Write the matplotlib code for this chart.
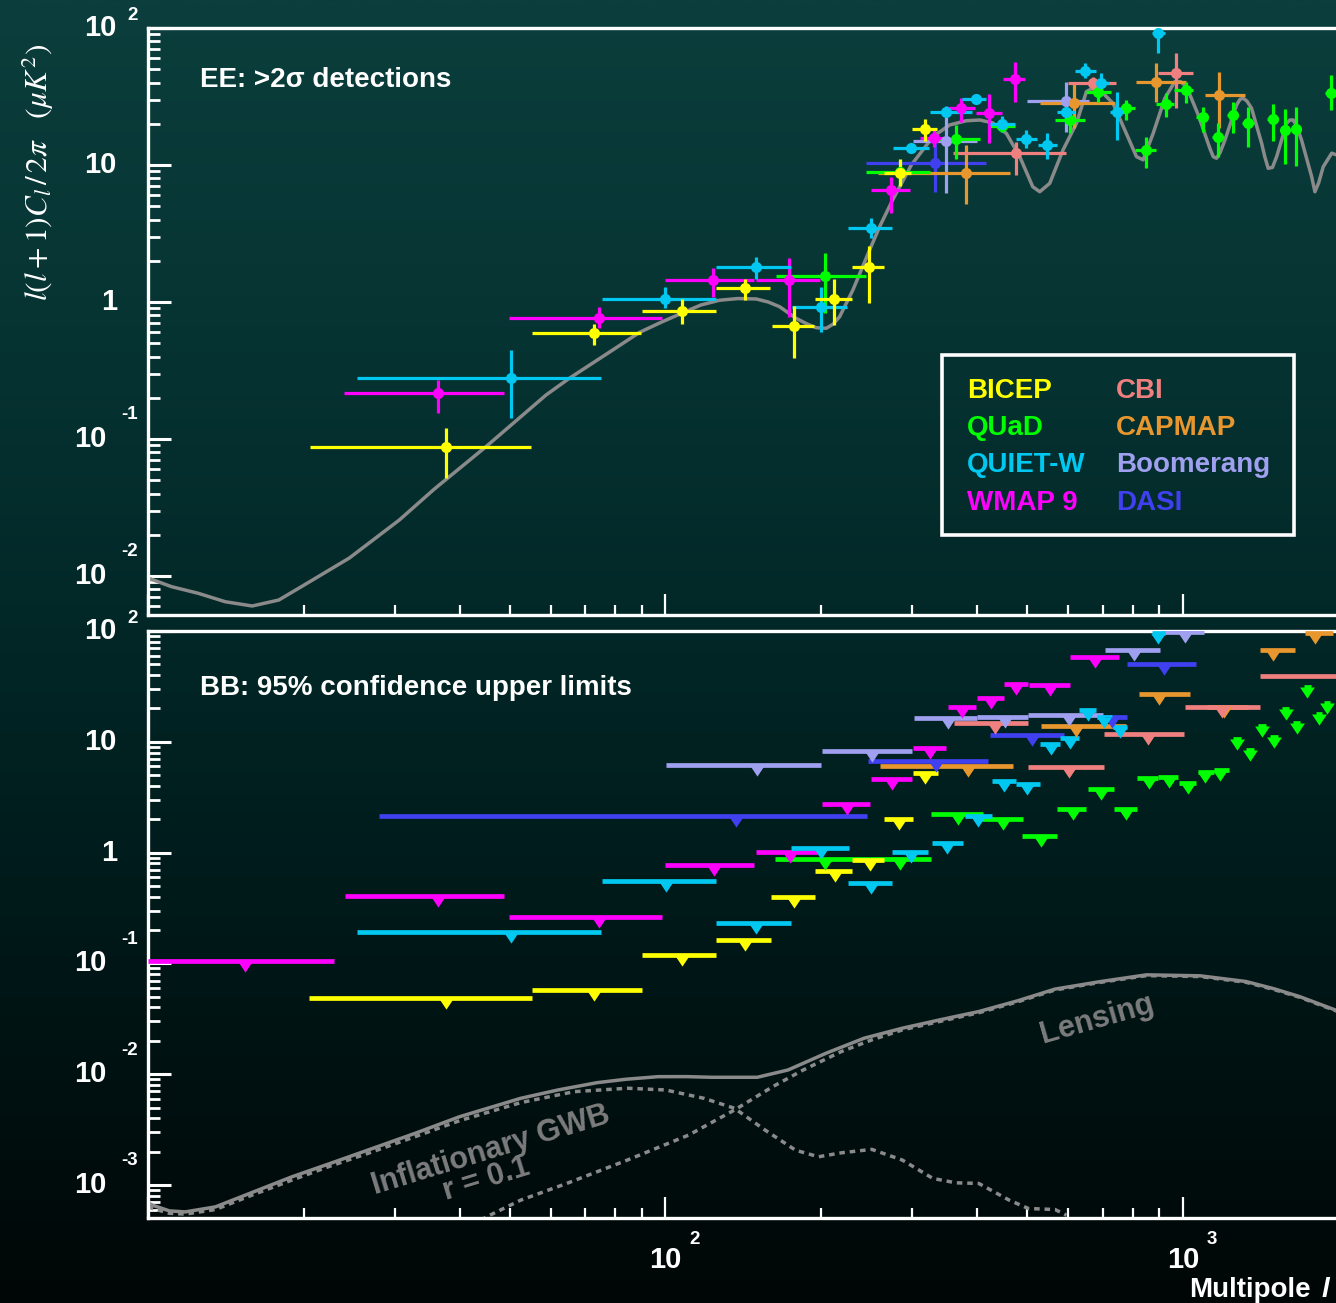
import numpy as np
import matplotlib
matplotlib.use("Agg")
import matplotlib.pyplot as plt
from matplotlib import font_manager
from matplotlib.colors import LinearSegmentedColormap
from matplotlib.patches import Rectangle
from matplotlib.ticker import LogLocator, NullFormatter

plt.rcParams["font.family"] = ["Liberation Sans", "DejaVu Sans"]
plt.rcParams["mathtext.fontset"] = "stix"

W, H, DPI = 1336, 1303, 100
PT = 72.0 / DPI  # points per pixel

# ---------------------------------------------------------------- colours
C_BICEP = "#ffff00"
C_QUAD = "#00ff00"
C_QUIET = "#00c8f0"
C_WMAP = "#ff00ff"
C_CBI = "#f08080"
C_CAPMAP = "#e8962e"
C_BOOM = "#a0a0f0"
C_DASI = "#4040f0"
C_THEORY = "#8a8a8a"
C_NOTE = "#7c7c7c"

# ---------------------------------------------------------------- EE band powers
# (l, l_min, l_max, D_l, D_l - 1sigma, D_l + 1sigma)   [uK^2]
BICEP_EE = [(37.7, 20.6, 55.1, 0.087, 0.052, 0.12),
            (72.9, 55.3, 89.9, 0.59, 0.486, 0.69),
            (107.7, 90.1, 125.4, 0.86, 0.69, 1.05),
            (142.8, 125.3, 159.6, 1.26, 1.03, 1.47),
            (177.6, 160.6, 194.0, 0.67, 0.39, 0.94),
            (212.0, 194.6, 229.0, 1.06, 0.68, 1.47),
            (247.0, 229.0, 264.6, 1.81, 0.99, 2.58),
            (283.6, 264.7, 298.7, 8.7, 7.0, 11.0),
            (317.0, 300.0, 335.0, 18.2, 15.0, 21.6)]

QUAD_EE = [(203.0, 163.3, 243.7, 1.55, 0.83, 2.29),
           (283.6, 244.0, 324.0, 8.9, 7.2, 10.9),
           (365.0, 324.0, 405.0, 15.4, 11.0, 19.6),
           (448.0, 423.0, 473.0, 19.2, 17.5, 21.5),
           (604.6, 565.0, 647.0, 21.3, 17.0, 23.9),
           (684.8, 651.0, 727.0, 34.3, 29.0, 39.7),
           (775.6, 755.0, 808.0, 25.9, 21.3, 29.8),
           (848.0, 808.0, 887.0, 12.9, 9.5, 16.1),
           (926.8, 887.0, 963.0, 27.9, 22.4, 33.7),
           (1013.0, 963.0, 1047.0, 35.3, 28.5, 40.6),
           (1092.0, 1060.0, 1120.0, 22.3, 17.5, 26.3),
           (1170.0, 1140.0, 1200.0, 15.9, 11.5, 20.2),
           (1248.0, 1215.0, 1280.0, 23.2, 17.0, 29.0),
           (1334.0, 1300.0, 1370.0, 20.4, 13.6, 26.3),
           (1491.0, 1455.0, 1525.0, 21.6, 15.0, 27.8),
           (1575.0, 1545.0, 1605.0, 18.0, 10.1, 25.5),
           (1654.0, 1620.0, 1690.0, 18.2, 9.9, 26.3),
           (1931.0, 1880.0, 1990.0, 33.4, 25.0, 45.4)]

QUIET_EE = [(50.3, 25.4, 75.1, 0.28, 0.142, 0.447),
            (100.0, 75.3, 125.0, 1.06, 0.90, 1.28),
            (149.8, 125.3, 175.0, 1.81, 1.47, 2.14),
            (200.0, 175.8, 224.3, 0.92, 0.60, 1.28),
            (250.0, 225.0, 274.0, 3.49, 2.92, 4.12),
            (298.7, 274.9, 323.0, 13.4, 12.7, 14.0),
            (349.0, 324.9, 391.9, 24.5, 22.4, 26.8),
            (397.8, 374.0, 417.0, 30.3, 28.5, 32.0),
            (448.0, 423.0, 473.0, 19.8, 17.3, 22.8),
            (498.6, 475.0, 523.0, 15.4, 13.3, 18.0),
            (547.0, 525.0, 572.0, 14.0, 11.0, 17.0),
            (595.6, 572.0, 620.0, 24.5, 20.4, 27.4),
            (648.0, 620.0, 678.0, 48.8, 43.0, 55.2),
            (696.0, 672.0, 720.0, 39.5, 32.4, 46.6),
            (747.4, 722.0, 773.0, 24.5, 15.2, 34.3),
            (896.0, 870.0, 922.0, 91.5, 65.4, 130.0)]

WMAP_EE = [(36.4, 23.9, 48.8, 0.218, 0.154, 0.27),
           (74.3, 49.9, 98.5, 0.768, 0.643, 0.915),
           (123.8, 99.6, 148.6, 1.45, 1.09, 1.78),
           (173.7, 149.8, 198.6, 1.45, 0.78, 2.08),
           (273.3, 250.0, 296.7, 6.57, 4.44, 8.2),
           (331.0, 310.0, 352.0, 15.7, 13.5, 18.0),
           (373.3, 349.0, 396.0, 25.9, 20.7, 30.7),
           (421.5, 398.0, 448.0, 24.1, 14.5, 33.0),
           (473.0, 449.0, 495.0, 42.2, 29.0, 56.8)]

CBI_EE = [(477.0, 359.0, 595.7, 12.3, 8.45, 14.8),
          (670.0, 600.0, 744.0, 39.7, 35.3, 44.1),
          (969.4, 896.0, 1047.0, 46.7, 25.9, 66.0)]

CAPMAP_EE = [(380.5, 257.5, 462.8, 8.78, 5.19, 14.0),
             (615.0, 529.0, 738.6, 28.2, 18.5, 39.7),
             (886.8, 812.9, 1016.0, 40.6, 29.0, 55.5),
             (1175.0, 1103.0, 1318.0, 32.4, 18.5, 48.0)]

BOOM_EE = [(348.0, 300.5, 399.6, 15.0, 6.2, 22.5),
           (594.0, 499.0, 660.0, 29.3, 17.5, 40.6)]

DASI_EE = [(331.4, 244.6, 417.0, 10.3, 6.38, 14.4)]

# ---------------------------------------------------------------- BB 95% upper limits
# (l_min, l_max, l_marker, limit)   [uK^2]
BICEP_BB = [(20.5, 55.3, 37.7, 0.049), (55.3, 90.0, 72.8, 0.057),
            (90.0, 125.0, 107.5, 0.119), (125.0, 160.0, 142.6, 0.163),
            (160.0, 195.0, 177.3, 0.398), (195.0, 229.0, 212.8, 0.683),
            (229.0, 265.0, 248.0, 0.864), (265.0, 301.0, 283.0, 2.03),
            (301.0, 336.0, 318.0, 5.18)]

WMAP_BB = [(10.0, 22.9, 15.4, 0.104), (24.0, 48.8, 36.4, 0.406),
           (49.9, 98.7, 74.4, 0.262), (99.8, 148.0, 124.0, 0.774),
           (149.5, 197.0, 174.0, 1.01), (201.0, 249.0, 224.0, 2.72),
           (250.0, 299.0, 274.0, 4.57), (301.0, 349.0, 325.0, 8.85),
           (351.0, 399.0, 375.0, 20.8), (401.0, 451.0, 425.0, 25.0),
           (452.0, 502.0, 477.0, 33.0), (505.0, 604.0, 553.0, 32.4),
           (604.0, 754.0, 675.0, 58.8)]

QUIET_BB = [(25.4, 75.1, 50.3, 0.192), (75.5, 125.2, 100.2, 0.555),
            (125.0, 175.0, 149.8, 0.233), (175.0, 226.0, 200.0, 1.10),
            (225.0, 274.0, 250.0, 0.528), (274.0, 322.0, 298.0, 1.01),
            (327.0, 376.0, 350.0, 1.22), (379.0, 428.0, 402.0, 2.13),
            (428.0, 476.0, 452.0, 4.41), (476.0, 530.0, 500.0, 4.12),
            (530.0, 580.0, 555.0, 9.47), (580.0, 630.0, 605.0, 10.9),
            (630.0, 680.0, 655.0, 19.2), (682.0, 730.0, 705.0, 16.9),
            (732.0, 781.0, 756.0, 13.7), (870.0, 925.0, 897.0, 95.5)]

QUAD_BB = [(163.0, 248.0, 203.0, 0.87), (248.0, 326.0, 284.0, 0.87),
           (326.0, 411.0, 367.0, 2.24), (410.0, 490.0, 450.0, 1.99),
           (489.0, 570.0, 531.0, 1.40), (570.0, 650.0, 612.0, 2.45),
           (655.0, 737.0, 695.0, 3.77), (737.0, 815.0, 778.0, 2.45),
           (815.0, 894.0, 859.0, 4.67), (894.0, 980.0, 940.0, 4.80),
           (985.0, 1060.0, 1022.0, 4.21), (1070.0, 1150.0, 1106.0, 5.32),
           (1150.0, 1230.0, 1181.0, 5.55), (1250.0, 1295.0, 1271.0, 10.5),
           (1325.0, 1370.0, 1348.0, 8.41), (1400.0, 1450.0, 1425.0, 13.9),
           (1475.0, 1525.0, 1500.0, 11.1), (1555.0, 1605.0, 1580.0, 19.6),
           (1635.0, 1685.0, 1660.0, 14.7), (1715.0, 1765.0, 1740.0, 31.5),
           (1805.0, 1855.0, 1830.0, 17.9), (1875.0, 1925.0, 1900.0, 22.2)]

CBI_BB = [(361.0, 502.0, 433.0, 14.9), (502.0, 703.0, 603.0, 5.96),
          (705.0, 1006.0, 856.0, 11.7), (1010.0, 1410.0, 1193.0, 20.6),
          (1410.0, 2600.0, 2050.0, 39.3)]

CAPMAP_BB = [(260.0, 469.0, 384.0, 6.03), (532.0, 776.0, 622.0, 13.9),
             (823.0, 1031.0, 900.0, 27.2), (1112.0, 1337.0, 1200.0, 20.8),
             (1410.0, 1650.0, 1493.0, 67.5), (1720.0, 1950.0, 1799.0, 96.9)]

BOOM_BB = [(100.4, 199.7, 150.0, 6.16), (201.0, 300.0, 250.4, 8.24),
           (302.0, 400.0, 351.0, 16.5), (401.0, 502.0, 453.0, 16.9),
           (502.0, 700.0, 603.0, 17.3), (707.0, 905.0, 805.0, 67.5),
           (910.0, 1100.0, 1011.0, 98.0)]

DASI_BB = [(28.0, 245.5, 136.6, 2.13), (246.0, 421.0, 334.0, 6.69),
           (424.0, 588.0, 510.0, 11.5), (682.0, 781.0, 730.0, 16.7),
           (781.0, 1058.0, 918.0, 50.8)]

# ---------------------------------------------------------------- model spectra (l, D_l)
EE_THEORY = [(10.0, 0.00967), (11.1, 0.00836), (12.5, 0.00748), (14.1, 0.00649),
             (15.9, 0.00604), (17.9, 0.00668), (19.6, 0.00818), (24.5, 0.01353),
             (30.6, 0.02563), (35.7, 0.0429), (45.0, 0.0879), (58.8, 0.2096),
             (65.2, 0.2773), (79.1, 0.4464), (89.1, 0.600), (98.0, 0.71),
             (107.7, 0.83), (117.0, 0.95), (127.2, 1.03), (138.0, 1.06),
             (149.8, 1.052), (158.0, 1.0), (166.2, 0.924), (178.9, 0.760),
             (188.0, 0.69), (195.7, 0.649), (204.6, 0.643), (211.0, 0.69),
             (217.1, 0.781), (230.3, 1.223), (248.1, 2.397), (259.4, 3.545),
             (274.8, 5.55), (298.7, 10.0), (328.9, 16.1), (354.2, 19.6),
             (381.6, 21.05), (405.0, 21.3), (429.0, 20.3), (456.0, 17.0),
             (484.0, 11.5), (512.8, 6.94), (529.0, 6.38), (553.0, 7.35),
             (586.9, 12.9), (623.0, 20.2), (651.0, 34.3), (670.0, 36.5),
             (691.0, 35.3), (733.0, 28.2), (772.4, 18.0), (813.6, 11.5),
             (838.0, 10.9), (876.2, 17.0), (923.0, 30.7), (965.0, 40.6),
             (990.0, 40.6), (1016.6, 37.3), (1071.0, 23.2), (1128.0, 13.2),
             (1145.0, 11.5), (1162.0, 11.2), (1180.0, 12.3), (1206.0, 15.2),
             (1270.0, 27.4), (1290.0, 30.2), (1308.0, 30.7), (1330.0, 29.3),
             (1358.0, 25.9), (1420.0, 14.4), (1440.0, 11.5), (1462.0, 9.46),
             (1490.0, 9.6), (1518.0, 11.5), (1587.0, 20.2), (1610.0, 21.3),
             (1634.0, 21.3), (1660.0, 19.2), (1696.0, 15.2), (1774.0, 8.22),
             (1800.0, 6.38), (1830.0, 7.4), (1868.0, 9.72), (1940.0, 12.2),
             (2000.0, 11.7)]

BB_TOTAL = [(10.0, 6.9e-4), (10.2, 6.57e-4), (11.0, 5.83e-4), (11.8, 5.71e-4),
            (13.5, 6.34e-4), (16.0, 8.66e-4), (18.96, 1.183e-3), (22.5, 1.564e-3),
            (26.6, 2.063e-3), (33.0, 2.95e-3), (40.0, 4.127e-3), (52.5, 6.05e-3),
            (62.0, 7.2e-3), (73.8, 8.38e-3), (84.0, 9.0e-3), (96.8, 9.49e-3),
            (110.0, 9.5e-3), (122.8, 9.37e-3), (150.5, 9.37e-3), (172.6, 1.091e-2),
            (204.4, 1.545e-2), (242.2, 2.112e-2), (287.1, 2.60e-2), (340.0, 3.1e-2),
            (403.2, 3.673e-2), (480.0, 4.6e-2), (566.2, 5.86e-2), (694.6, 6.86e-2),
            (851.0, 7.88e-2), (1080.0, 7.72e-2), (1324.0, 6.86e-2), (1500.0, 5.9e-2),
            (1680.0, 5.02e-2), (2000.0, 3.7e-2)]

BB_GWB = [(10.0, 6.4e-4), (10.2, 6.13e-4), (11.0, 5.55e-4), (11.8, 5.45e-4),
          (13.5, 6.0e-4), (16.0, 8.2e-4), (18.96, 1.105e-3), (22.5, 1.48e-3),
          (26.6, 1.926e-3), (33.0, 2.75e-3), (40.0, 3.80e-3), (52.5, 5.53e-3),
          (66.6, 6.95e-3), (84.5, 7.46e-3), (100.1, 7.20e-3), (118.7, 6.05e-3),
          (136.0, 4.92e-3), (155.8, 3.13e-3), (178.4, 2.06e-3), (197.6, 1.795e-3),
          (218.8, 1.95e-3), (250.6, 2.094e-3), (287.1, 1.675e-3), (328.8, 1.145e-3),
          (364.2, 1.045e-3), (403.2, 1.032e-3), (461.8, 7.29e-4), (502.8, 6.13e-4),
          (566.2, 6.0e-4), (596.0, 5.33e-4)]

BB_LENS = [(44.0, 4.8e-4), (45.1, 5.15e-4), (52.5, 7.29e-4), (64.4, 1.03e-3),
           (84.5, 1.68e-3), (110.9, 2.82e-3), (136.0, 4.75e-3), (161.2, 7.71e-3),
           (184.6, 1.09e-2), (218.8, 1.60e-2), (250.6, 2.04e-2), (287.1, 2.51e-2),
           (340.0, 3.0e-2), (403.2, 3.58e-2), (480.0, 4.5e-2), (566.2, 5.75e-2),
           (694.6, 6.75e-2), (851.0, 7.75e-2), (1080.0, 7.6e-2), (1324.0, 6.75e-2),
           (1500.0, 5.8e-2), (1680.0, 4.95e-2), (2000.0, 3.65e-2)]

LEGEND_LEFT = [("BICEP", C_BICEP), ("QUaD", C_QUAD), ("QUIET-W", C_QUIET), ("WMAP 9", C_WMAP)]
LEGEND_RIGHT = [("CBI", C_CBI), ("CAPMAP", C_CAPMAP), ("Boomerang", C_BOOM), ("DASI", C_DASI)]

# tick labels: (value, base, exponent)
TOP_YLABELS = [(100, "10", "2"), (10, "10", ""), (1, "1", ""), (0.1, "10", "-1"), (0.01, "10", "-2")]
BOT_YLABELS = [(100, "10", "2"), (10, "10", ""), (1, "1", ""), (0.1, "10", "-1"),
               (0.01, "10", "-2"), (0.001, "10", "-3")]
XLABELS = [(100, "10", "2"), (1000, "10", "3")]

# condensed face for the curve annotations, when available
_installed = {f.name for f in font_manager.fontManager.ttflist}
if "Liberation Sans Narrow" in _installed:
    NOTE_FONT = dict(family=["Liberation Sans Narrow", "Liberation Sans"], fontsize=26)
else:
    NOTE_FONT = dict(family=["Liberation Sans", "DejaVu Sans"], fontsize=22)

# ---------------------------------------------------------------- figure
fig = plt.figure(figsize=(W / DPI, H / DPI), dpi=DPI)


def fx(x):
    return x / W


def fy(y):
    return 1.0 - y / H


# vertical background gradient
bg = fig.add_axes([0, 0, 1, 1], zorder=-10)
stops = [(0.0, (11, 62, 60)), (0.25, (6, 52, 51)), (0.5, (2, 38, 38)),
         (0.72, (0, 24, 24)), (1.0, (0, 6, 6))]
bg_cmap = LinearSegmentedColormap.from_list(
    "bg", [(p, tuple(c / 255.0 for c in col)) for p, col in stops])
bg.imshow(np.linspace(0, 1, 600)[:, None], aspect="auto", cmap=bg_cmap,
          extent=[0, 1, 0, 1], origin="upper")
bg.set_axis_off()


def panel(top, bottom, ylim):
    ax = fig.add_axes([fx(148), fy(bottom), fx(1338.6) - fx(148), (bottom - top) / H])
    ax.set_facecolor("none")
    ax.set_xscale("log")
    ax.set_yscale("log")
    ax.set_xlim(10, 2000)
    ax.set_ylim(*ylim)
    for s in ("left", "top", "bottom"):
        ax.spines[s].set_color("white")
        ax.spines[s].set_linewidth(2.4)
    ax.spines["right"].set_visible(False)
    for axis in (ax.xaxis, ax.yaxis):
        axis.set_major_locator(LogLocator(base=10, numticks=20))
        axis.set_minor_locator(LogLocator(base=10, subs=np.arange(2, 10), numticks=20))
        axis.set_minor_formatter(NullFormatter())
    ax.tick_params(which="both", direction="in", colors="white", top=False, right=False,
                   labelleft=False, labelbottom=False)
    ax.tick_params(axis="y", which="major", length=16.5, width=2.2)
    ax.tick_params(axis="y", which="minor", length=8.5, width=2.0)
    ax.tick_params(axis="x", which="major", length=15, width=1.6)
    ax.tick_params(axis="x", which="minor", length=7.5, width=1.6)
    return ax


ax1 = panel(28, 615, (10 ** -2.2847, 100))
ax2 = panel(631, 1218, (10 ** -3.2984, 100))


def y_tick_labels(ax, entries):
    for val, base, sup in entries:
        base_off = -41 if sup.startswith("-") else -31
        ax.annotate(base, xy=(0, val), xycoords=("axes fraction", "data"),
                    xytext=(base_off * PT, 0), textcoords="offset points",
                    ha="right", va="center", fontsize=21, fontweight="bold",
                    color="white", annotation_clip=False)
        if sup:
            lift = 24 if sup.startswith("-") else 13
            ax.annotate(sup, xy=(0, val), xycoords=("axes fraction", "data"),
                        xytext=(-10 * PT, lift * PT), textcoords="offset points",
                        ha="right", va="center", fontsize=13.5, fontweight="bold",
                        color="white", annotation_clip=False)


y_tick_labels(ax1, TOP_YLABELS)
y_tick_labels(ax2, BOT_YLABELS)

for val, base, sup in XLABELS:
    ax2.annotate(base, xy=(val, 0), xycoords=("data", "axes fraction"),
                 xytext=(0, -42 * PT), textcoords="offset points", ha="center",
                 va="center", fontsize=21, fontweight="bold", color="white",
                 annotation_clip=False)
    ax2.annotate(sup, xy=(val, 0), xycoords=("data", "axes fraction"),
                 xytext=(24 * PT, -21 * PT), textcoords="offset points", ha="left",
                 va="center", fontsize=13.5, fontweight="bold", color="white",
                 annotation_clip=False)

# ---------------------------------------------------------------- EE panel
l_ee, d_ee = zip(*EE_THEORY)
ax1.plot(l_ee, d_ee, color=C_THEORY, lw=2.5, solid_joinstyle="round", zorder=2)


def plot_ee(rows, color):
    a = np.array(rows)
    l, lo, hi, d, dlo, dhi = a.T
    ax1.errorbar(l, d, xerr=[l - lo, hi - l], yerr=[d - dlo, dhi - d], fmt="o",
                 color=color, ms=8, mew=0, elinewidth=2.3, capsize=0, zorder=3)


for rows, col in [(DASI_EE, C_DASI), (BOOM_EE, C_BOOM), (CAPMAP_EE, C_CAPMAP),
                  (CBI_EE, C_CBI), (QUAD_EE, C_QUAD), (WMAP_EE, C_WMAP),
                  (QUIET_EE, C_QUIET), (BICEP_EE, C_BICEP)]:
    plot_ee(rows, col)

# ---------------------------------------------------------------- BB panel
for curve, ls in [(BB_GWB, (0, (1.6, 1.4))), (BB_LENS, (0, (1.6, 1.4))), (BB_TOTAL, "-")]:
    lc, dc = zip(*curve)
    ax2.plot(lc, dc, color=C_THEORY, lw=2.5, ls=ls, solid_joinstyle="round", zorder=2)

down_tri = [(-1.0, 0.0), (1.0, 0.0), (0.0, -1.5), (-1.0, 0.0)]


def plot_bb(rows, color):
    a = np.array(rows)
    lo, hi, lm, lim = a.T
    ax2.hlines(lim, lo, hi, colors=color, lw=3.4, zorder=3)
    ax2.plot(lm, lim, ls="none", marker=down_tri, ms=16, mew=0, color=color, zorder=4)


for rows, col in [(DASI_BB, C_DASI), (BOOM_BB, C_BOOM), (CAPMAP_BB, C_CAPMAP),
                  (CBI_BB, C_CBI), (QUAD_BB, C_QUAD), (WMAP_BB, C_WMAP),
                  (QUIET_BB, C_QUIET), (BICEP_BB, C_BICEP)]:
    plot_bb(rows, col)

# ---------------------------------------------------------------- annotations
fig.text(fx(200), fy(80), "EE: >2\u03c3 detections", color="white", fontsize=20,
         fontweight="bold", ha="left", va="center")
fig.text(fx(200), fy(688), "BB: 95% confidence upper limits", color="white",
         fontsize=20, fontweight="bold", ha="left", va="center")

fig.text(fx(38), fy(172), r"$l(l+1)C_l\,/\,2\pi\ \ \ (\mu K^2)$", color="white",
         fontsize=22.5, rotation=90, ha="center", va="center")
fig.text(fx(1189), fy(1290), "Multipole", color="white", fontsize=20,
         fontweight="bold", ha="left", va="center")
fig.text(fx(1322), fy(1290), "l", color="white", fontsize=20, fontweight="bold",
         style="italic", ha="left", va="center")

fig.text(fx(491), fy(1150), "Inflationary GWB", color=C_NOTE, fontweight="bold",
         rotation=17, rotation_mode="anchor", ha="center", va="center", **NOTE_FONT)
fig.text(fx(486), fy(1179), "r = 0.1", color=C_NOTE, fontweight="bold",
         rotation=17, rotation_mode="anchor", ha="center", va="center", **NOTE_FONT)
fig.text(fx(1097), fy(1019), "Lensing", color=C_NOTE, fontweight="bold",
         rotation=16, rotation_mode="anchor", ha="center", va="center", **NOTE_FONT)

# legend box
fig.add_artist(Rectangle((fx(942), fy(535)), fx(1294) - fx(942), (535 - 355) / H,
                         transform=fig.transFigure, fill=False, ec="white", lw=2.6,
                         zorder=5))
for i, (name, col) in enumerate(LEGEND_LEFT):
    fig.text(fx(967), fy(391 + 37.2 * i), name, color=col, fontsize=20,
             fontweight="bold", ha="left", va="center", zorder=6)
for i, (name, col) in enumerate(LEGEND_RIGHT):
    fig.text(fx(1116), fy(391 + 37.2 * i), name, color=col, fontsize=20,
             fontweight="bold", ha="left", va="center", zorder=6)

fig.savefig("out.png", dpi=DPI)
